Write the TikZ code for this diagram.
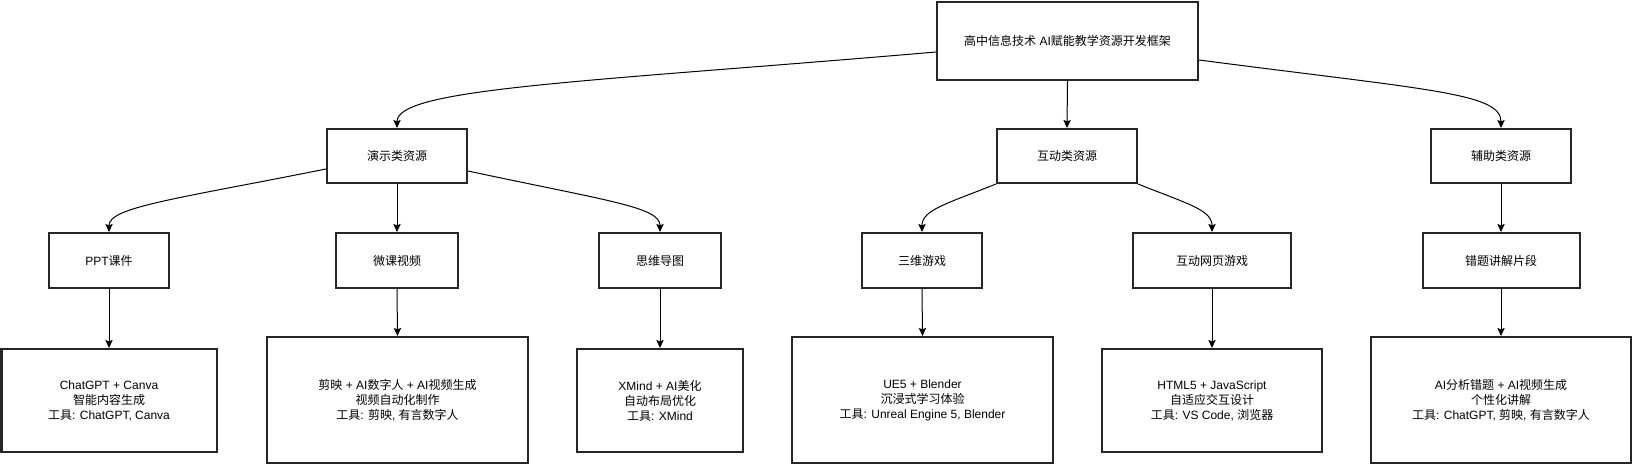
\documentclass[tikz,border=0pt]{standalone}
\usepackage{fontspec}
\setmainfont{Liberation Sans}
\newfontfamily\cjkfont{Noto Sans CJK SC}
% switch font between Latin and CJK characters
\newXeTeXintercharclass\cjkclass
\newcount\cjkcnt
\cjkcnt="4E00
\loop \XeTeXcharclass\cjkcnt=\cjkclass \advance\cjkcnt by 1 \ifnum\cjkcnt<"A000 \repeat
\XeTeXinterchartokenstate=1
\XeTeXinterchartoks 0 \cjkclass = {\cjkfont}
\XeTeXinterchartoks 4095 \cjkclass = {\cjkfont}
\XeTeXinterchartoks \cjkclass 0 = {\rmfamily}
\XeTeXinterchartoks \cjkclass 4095 = {\rmfamily}
\usepackage{tikz}
\usetikzlibrary{arrows.meta,calc}
\tikzstyle{block} = [rectangle, sharp corners, draw=black!85, line width=1.5pt,
                     align=center, fill=white, inner sep=2pt,
                     font=\fontsize{9}{11.25}\selectfont]
\tikzstyle{topbox} = [block, minimum width=195.75pt, minimum height=58.5pt]
\tikzstyle{catbox} = [block, minimum width=105pt, minimum height=40.5pt]
\tikzstyle{resbox} = [block, minimum height=41.25pt]
\tikzstyle{toolbox} = [block]

\begin{document}
\begin{tikzpicture}[x=0.75pt, y=-0.75pt,
edge/.style={draw=black, line width=0.75pt, -{Stealth[length=6pt, width=5.5pt, inset=1pt]}}]
\useasboundingbox (0,0) rectangle (1632,464);
% root
\node[topbox] (root) at (1067.5,41) {高中信息技术 AI赋能教学资源开发框架};

% categories
\node[catbox] (demo) at (397,156) {演示类资源};
\node[catbox] (inter) at (1067,156) {互动类资源};
\node[catbox] (aux) at (1501,156) {辅助类资源};

% resources
\node[resbox, minimum width=90pt] (ppt) at (109,260.5) {PPT课件};
\node[resbox, minimum width=91.5pt] (micro) at (397,260.5) {微课视频};
\node[resbox, minimum width=91.5pt] (mind) at (660,260.5) {思维导图};
\node[resbox, minimum width=90pt] (game3d) at (922,260.5) {三维游戏};
\node[resbox, minimum width=118.5pt] (webgame) at (1212,260.5) {互动网页游戏};
\node[resbox, minimum width=117.75pt] (errclip) at (1501,260.5) {错题讲解片段};

% tools
\node[toolbox, minimum width=161.25pt, minimum height=77.25pt] (pptTool) at (109,400.5)
  {ChatGPT + Canva\\智能内容生成\\工具: ChatGPT, Canva};
\node[toolbox, minimum width=195.75pt, minimum height=94.5pt] (microTool) at (397.5,400)
  {剪映 + AI数字人 + AI视频生成\\视频自动化制作\\工具: 剪映, 有言数字人};
\node[toolbox, minimum width=124.5pt, minimum height=77.25pt] (mindTool) at (660,400.5)
  {XMind + AI美化\\自动布局优化\\工具: XMind};
\node[toolbox, minimum width=195.75pt, minimum height=94.5pt] (gameTool) at (922.5,400)
  {UE5 + Blender\\沉浸式学习体验\\工具: Unreal Engine 5, Blender};
\node[toolbox, minimum width=165pt, minimum height=77.25pt] (webTool) at (1212,400.5)
  {HTML5 + JavaScript\\自适应交互设计\\工具: VS Code, 浏览器};
\node[toolbox, minimum width=195pt, minimum height=94.5pt] (errTool) at (1501,400)
  {AI分析错题 + AI视频生成\\个性化讲解\\工具: ChatGPT, 剪映, 有言数字人};

% root -> categories
\draw[edge] ($(root.west)+(0,11)$) .. controls +(-350,30) and +(0,-40) .. (demo.north);
\draw[edge] (root.south) -- (inter.north);
\draw[edge] ($(root.east)+(0,19)$) .. controls +(230,30) and +(0,-35) .. (aux.north);

% categories -> resources
\draw[edge] ($(demo.west)+(0,13)$) .. controls +(-150,30) and +(0,-25) .. (ppt.north);
\draw[edge] (demo.south) -- (micro.north);
\draw[edge] ($(demo.east)+(0,15)$) .. controls +(140,30) and +(0,-25) .. (mind.north);
\draw[edge] (inter.south west) .. controls +(-50,20) and +(0,-22) .. (game3d.north);
\draw[edge] (inter.south east) .. controls +(50,20) and +(0,-22) .. (webgame.north);
\draw[edge] (aux.south) -- (errclip.north);

% resources -> tools
\draw[edge] (ppt.south) -- (pptTool.north);
\draw[edge] (micro.south) -- (microTool.north);
\draw[edge] (mind.south) -- (mindTool.north);
\draw[edge] (game3d.south) -- (gameTool.north);
\draw[edge] (webgame.south) -- (webTool.north);
\draw[edge] (errclip.south) -- (errTool.north);

\end{tikzpicture}
\end{document}
